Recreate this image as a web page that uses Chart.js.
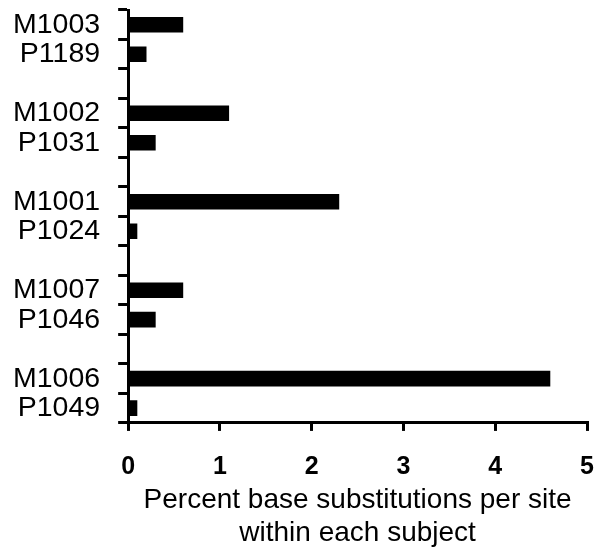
<!DOCTYPE html>
<html>
<head>
<meta charset="utf-8">
<script src="https://cdn.jsdelivr.net/npm/chart.js@4/dist/chart.umd.min.js"></script>
<style>
  body { margin: 0; background: #fff; }
  #wrap { width: 598px; height: 555px; }
</style>
</head>
<body>
<div id="wrap"><canvas id="chart" width="598" height="555"></canvas></div>
<script>
// subjects top to bottom, '' = empty spacer slot between pairs
const subjects = ['M1003', 'P1189', '', 'M1002', 'P1031', '', 'M1001', 'P1024', '', 'M1007', 'P1046', '', 'M1006', 'P1049'];
const percentSubs = [0.6, 0.2, null, 1.1, 0.3, null, 2.3, 0.1, null, 0.6, 0.3, null, 4.6, 0.1];
const xTicks = [0, 1, 2, 3, 4, 5];
const xTitle = ['Percent base substitutions per site', 'within each subject'];

const font = 'Liberation Sans, Arial, sans-serif';
const ctx = document.getElementById('chart');

new Chart(ctx, {
  type: 'bar',
  data: {
    labels: subjects,
    datasets: [{
      data: percentSubs,
      backgroundColor: '#000',
      borderWidth: 0,
      barPercentage: 0.53,
      categoryPercentage: 1
    }]
  },
  options: {
    indexAxis: 'y',
    responsive: false,
    animation: false,
    layout: { padding: { top: 10, right: 11, left: 13, bottom: 5 } },
    plugins: {
      legend: { display: false },
      tooltip: { enabled: false }
    },
    scales: {
      x: {
        min: xTicks[0],
        max: xTicks[xTicks.length - 1],
        afterBuildTicks: (axis) => { axis.ticks = xTicks.map(v => ({ value: v })); },
        // chart.js counts tick padding twice, drop the extra one
        afterFit: (axis) => {
          axis.paddingLeft = 0;
          axis.paddingRight = 0;
          axis.height -= axis.options.ticks.padding;
        },
        border: { display: true, color: '#000', width: 3 },
        grid: { drawOnChartArea: false, drawTicks: true, tickLength: 8, color: '#000', lineWidth: 3 },
        ticks: {
          color: '#000',
          padding: 19,
          font: { family: font, size: 25, weight: 'bold', lineHeight: 1.36 }
        },
        title: {
          display: true,
          text: xTitle,
          color: '#000',
          padding: 0,
          font: { family: font, size: 28, lineHeight: 1.18 }
        }
      },
      y: {
        afterFit: (axis) => {
          axis.paddingTop = 0;
          axis.paddingBottom = 0;
          axis.width -= axis.options.ticks.padding;
        },
        border: { display: true, color: '#000', width: 3 },
        grid: { offset: true, drawOnChartArea: false, drawTicks: true, tickLength: 10, color: '#000', lineWidth: 3 },
        ticks: {
          color: '#000',
          padding: 18,
          autoSkip: false,
          font: { family: font, size: 28.5 }
        }
      }
    }
  }
});
</script>
</body>
</html>
